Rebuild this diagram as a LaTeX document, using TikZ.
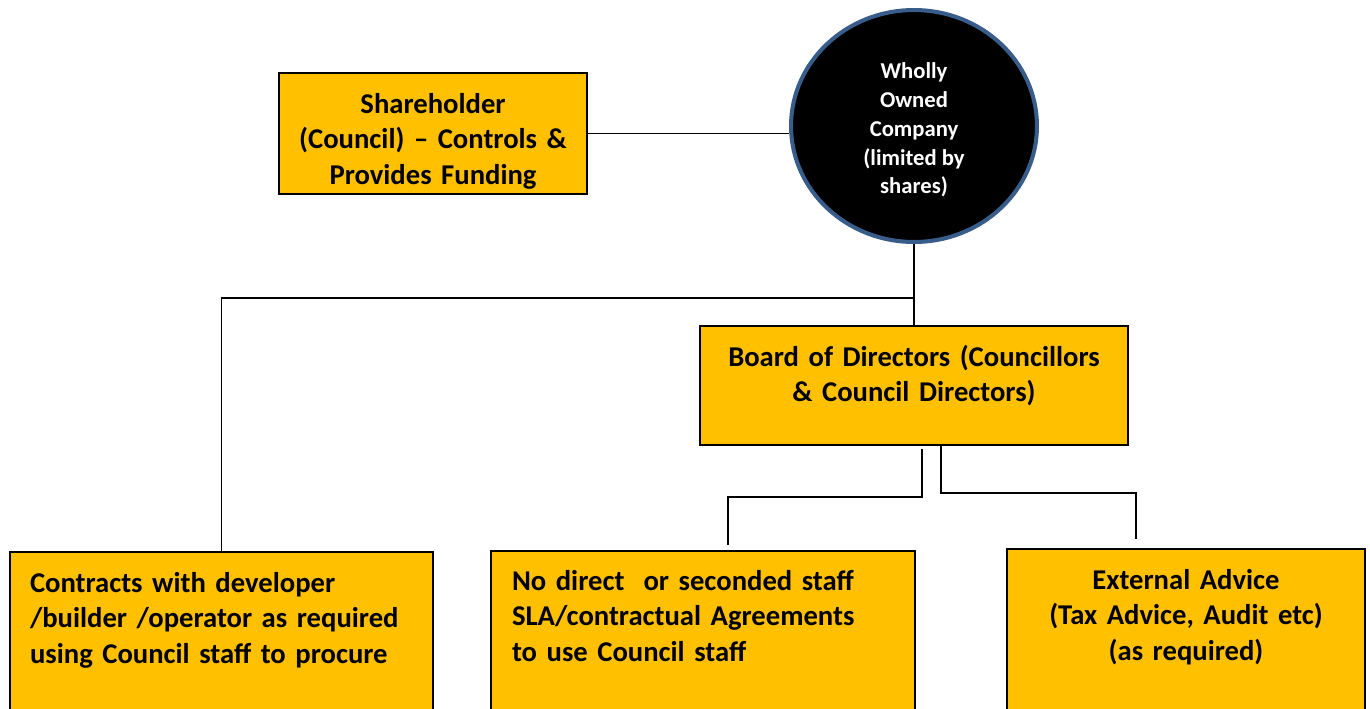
\documentclass[tikz,border=0pt]{standalone}
\usepackage{fontspec}
\setmainfont{Carlito}
\usetikzlibrary{shapes.geometric}
\definecolor{gold}{HTML}{FFC000}
\definecolor{rimblue}{HTML}{385D8A}

\begin{document}
\begin{tikzpicture}[x=0.02cm,y=-0.02cm,
    box/.style={draw=black,line width=1.1pt,fill=gold,inner sep=0pt,
        font=\bfseries\fontsize{16.3}{20.4}\selectfont},
    link/.style={draw=black,line width=1.1pt}]
    % Page frame, boxes at the bottom run off the edge:
    \path[use as bounding box,clip] (0,0) rectangle (1370,708);

    % The company itself:
    \node[ellipse,fill=black,draw=rimblue,line width=2.3pt,
        minimum width=4.92cm,minimum height=4.64cm,inner sep=0pt,
        text=white,align=center,font=\bfseries\fontsize{12.9}{16.4}\selectfont]
        (company) at (914,126) {\\[-0.1cm]Wholly\\Owned\\Company\\(limited by\\shares)};

    % Boxes: `text height` and `text depth` put the first line near the top
    \node[box,text width=6.16cm,align=center,text height=0.8cm,text depth=1.62cm]
        (share) at (433,133.5) {Shareholder\\(Council) – Controls \&\\Provides Funding};
    \node[box,text width=8.56cm,align=center,text height=0.8cm,text depth=1.58cm]
        (board) at (914,385.5) {Board of Directors (Councillors\\\& Council Directors)};
    \node[box,inner xsep=0.4cm,text width=7.66cm,align=left,text height=0.8cm,text depth=3.36cm]
        (contracts) at (221.5,656) {Contracts with developer\\/builder /operator as required\\using Council staff to procure};
    \node[box,inner xsep=0.42cm,text width=7.64cm,align=left,text height=0.78cm,text depth=3.4cm]
        (nodirect) at (703,655.5) {No direct\ \ or seconded staff\\SLA/contractual Agreements\\to use Council staff};
    \node[box,text width=7.16cm,align=center,text height=0.8cm,text depth=3.42cm]
        (external) at (1186,654.5) {External Advice\\(Tax Advice, Audit etc)\\(as required)};

    % Connectors:
    \coordinate (split) at (914,298);
    \coordinate (nd-top) at (728,545);
    \coordinate (ex-top) at (1136,539);
    \draw[black,line width=0.8pt] (share.east) -- (share.east -| company.west);
    \draw[link] (company.south) -- (split) -| (contracts.north);
    \draw[link] (company.south) -- (board.north);
    \draw[link] (board.south) ++(8,3) -- ++(0,48) -| (nd-top);
    \draw[link] (board.south) ++(27,0) -- ++(0,47) -| (ex-top);
\end{tikzpicture}
\end{document}
